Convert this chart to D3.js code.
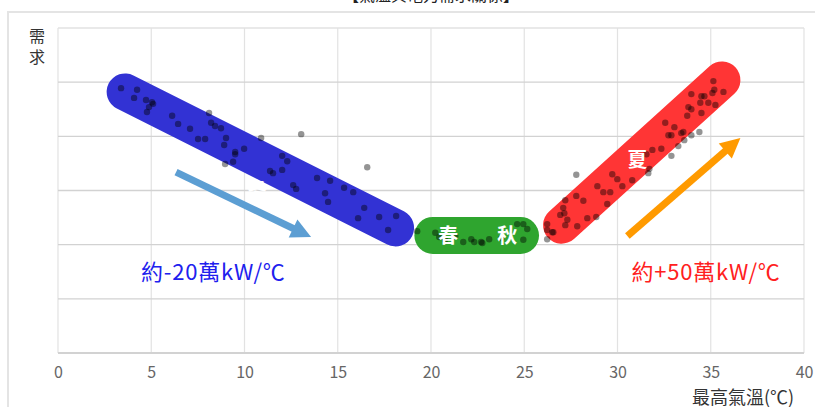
<!DOCTYPE html>
<html>
<head>
<meta charset="utf-8">
<script src="https://cdn.jsdelivr.net/npm/d3@7"></script>
<style>
  body { margin: 0; background: #fff; }
  text { font-family: "Noto Sans CJK TC", "Noto Sans", sans-serif; }
</style>
</head>
<body>
<div class="chart"></div>
<script>
// tick labels and grid
const xTicks = [0, 5, 10, 15, 20, 25, 30, 35, 40];
const yLines = [0, 1, 2, 3, 4, 5, 6];

// scatter points [max temperature, demand]
const winterPts = [
  [3.38, 4.89], [4.24, 4.86], [4.08, 4.71], [4.72, 4.67], [5.04, 4.63], [5.10, 4.60],
  [4.88, 4.54], [4.77, 4.45], [6.12, 4.38], [6.44, 4.23], [7.08, 4.14], [8.10, 4.43],
  [8.21, 4.25], [8.42, 4.19], [8.74, 4.15], [7.51, 3.95], [7.89, 3.95], [9.01, 3.97],
  [8.91, 3.84], [9.50, 3.71], [9.50, 3.67], [9.98, 3.77], [10.89, 3.97], [13.04, 4.04],
  [8.96, 3.49], [9.39, 3.53], [12.02, 3.64], [12.29, 3.54], [12.02, 3.38], [11.37, 3.36],
  [11.53, 3.32], [13.89, 3.23], [14.59, 3.18], [12.61, 3.10], [12.77, 3.03], [15.34, 3.05],
  [15.83, 2.97], [14.32, 2.95], [14.48, 2.79], [16.58, 3.43], [16.42, 2.68], [16.09, 2.49],
  [17.22, 2.51], [18.13, 2.53], [17.70, 2.27]
];
const midPts = [
  [19.26, 2.25], [20.23, 2.22], [20.44, 2.14], [20.76, 2.09], [21.30, 2.16], [21.73, 2.05],
  [22.16, 2.10], [22.32, 2.05], [22.69, 2.05], [22.75, 2.03], [23.12, 2.10], [23.77, 2.12],
  [24.62, 2.38], [24.95, 2.38], [25.16, 2.29], [24.95, 2.09], [26.23, 2.10], [26.23, 2.27],
  [26.56, 2.23]
];
const summerPts = [
  [35.14, 5.02], [35.19, 4.86], [35.09, 4.80], [35.68, 4.82], [34.66, 4.74], [34.50, 4.74],
  [33.96, 4.78], [34.44, 4.62], [34.87, 4.62], [35.25, 4.58], [33.80, 4.54], [33.96, 4.50],
  [33.74, 4.38], [34.50, 4.43], [34.39, 4.08], [33.96, 4.02], [33.58, 3.93], [33.26, 3.82],
  [33.53, 4.08], [33.42, 4.06], [33.05, 4.17], [32.56, 4.25], [32.73, 4.02], [32.89, 4.02],
  [32.35, 3.77], [32.89, 3.64], [31.87, 3.75], [31.55, 3.67], [31.71, 3.40], [31.65, 3.32],
  [27.79, 3.29], [29.72, 3.30], [29.99, 3.21], [30.26, 3.08], [30.79, 3.19], [28.92, 3.08],
  [29.24, 2.97], [29.61, 2.97], [29.45, 2.75], [28.17, 2.81], [27.79, 2.90], [27.20, 2.82],
  [27.09, 2.68], [26.93, 2.55], [27.15, 2.58], [27.31, 2.46], [27.20, 2.36], [28.38, 2.49],
  [28.86, 2.51], [27.84, 2.34], [26.50, 2.23], [26.23, 2.38]
];

// season bands (start / end of each trend)
const winterBand = [[3.6, 4.82], [18.1, 2.31]];
const midBand = [[20.1, 2.17], [24.8, 2.17]];
const summerBand = [[27.0, 2.36], [35.6, 5.04]];

// labels and arrows
const seasonLabels = [["冬", 10.68, 3.01], ["春", 20.92, 2.16], ["秋", 24.09, 2.16], ["夏", 31.06, 3.56]];
const winterArrow = [[6.33, 3.34], [13.57, 2.14]];
const summerArrow = [[30.53, 2.16], [36.59, 3.97]];
const slopeTexts = [["約-20萬kW/℃", 8.33, 1.34, "#2020ee"], ["約+50萬kW/℃", 34.75, 1.34, "#ff2020"]];

const svgWidth = 815, svgHeight = 407;
const svg = d3.select(".chart").append("svg")
  .attr("width", svgWidth)
  .attr("height", svgHeight);

const x = d3.scaleLinear().domain([0, 40]).range([58, 804]);
const y = d3.scaleLinear().domain([0, 6]).range([353, 28]);

// outer frame + cut-off title
svg.append("path")
  .attr("d", "M8,407 V12 H815")
  .attr("fill", "none")
  .attr("stroke", "#e4e4e4")
  .attr("stroke-width", 2);
svg.append("text")
  .attr("x", 431).attr("y", 1)
  .attr("text-anchor", "middle")
  .attr("font-size", 16)
  .attr("fill", "#222")
  .text("【氣溫與電力需求關係】");

// grid
svg.append("g").selectAll("line")
  .data(xTicks)
  .enter().append("line")
  .attr("x1", d => x(d)).attr("x2", d => x(d))
  .attr("y1", y(6)).attr("y2", y(0))
  .attr("stroke", "#e2e2e2")
  .attr("stroke-width", 1.2);

svg.append("g").selectAll("line")
  .data(yLines)
  .enter().append("line")
  .attr("x1", x(0)).attr("x2", x(40))
  .attr("y1", d => y(d)).attr("y2", d => y(d))
  .attr("stroke", d => d === 6 ? "#e2e2e2" : "#d2d2d2")
  .attr("stroke-width", d => d === 0 ? 2 : 1.3);

// x axis labels
const bottomAxis = d3.axisBottom(x).tickValues(xTicks).tickSize(0).tickPadding(14);
const xAxis = svg.append("g")
  .attr("transform", `translate(0, ${y(0)})`)
  .call(bottomAxis);
xAxis.select(".domain").remove();
xAxis.selectAll("text")
  .attr("font-family", "'Liberation Sans Narrow', 'Roboto', sans-serif")
  .attr("font-size", 16)
  .attr("fill", "#666");

// axis titles
svg.append("text")
  .attr("x", 692).attr("y", 404)
  .attr("font-size", 18)
  .attr("fill", "#333")
  .text("最高氣溫(℃)");

// vertical y title, one glyph per line
svg.append("g").selectAll("text")
  .data(["需", "求"])
  .enter().append("text")
  .attr("x", 37)
  .attr("y", (d, i) => 42 + i * 21)
  .attr("text-anchor", "middle")
  .attr("font-size", 16)
  .attr("fill", "#333")
  .text(d => d);

// season bands
const bands = [[winterBand, "#3232d4"], [midBand, "#2fa52f"], [summerBand, "#ff3535"]];
svg.append("g").selectAll("line")
  .data(bands)
  .enter().append("line")
  .attr("x1", d => x(d[0][0][0])).attr("y1", d => y(d[0][0][1]))
  .attr("x2", d => x(d[0][1][0])).attr("y2", d => y(d[0][1][1]))
  .attr("stroke", d => d[1])
  .attr("stroke-width", 37)
  .attr("stroke-linecap", "round");

// scatter points
const allPts = winterPts.concat(midPts, summerPts);
svg.append("g").selectAll("circle")
  .data(allPts)
  .enter().append("circle")
  .attr("cx", d => x(d[0]))
  .attr("cy", d => y(d[1]))
  .attr("r", 3.2)
  .attr("fill", "#000")
  .attr("opacity", 0.42);

// season labels
svg.append("g").selectAll("text")
  .data(seasonLabels)
  .enter().append("text")
  .attr("x", d => x(d[1]))
  .attr("y", d => y(d[2]))
  .attr("dy", "0.36em")
  .attr("text-anchor", "middle")
  .attr("font-size", 20)
  .attr("font-weight", "bold")
  .attr("fill", "#fff")
  .text(d => d[0]);

// arrows
function drawArrow(pts, color) {
  const x1 = x(pts[0][0]), y1 = y(pts[0][1]);
  const x2 = x(pts[1][0]), y2 = y(pts[1][1]);
  const len = Math.hypot(x2 - x1, y2 - y1);
  const ux = (x2 - x1) / len, uy = (y2 - y1) / len;
  const head = 20, halfW = 10;
  const bx = x2 - ux * head, by = y2 - uy * head;
  svg.append("line")
    .attr("x1", x1).attr("y1", y1)
    .attr("x2", bx + ux * 2).attr("y2", by + uy * 2)
    .attr("stroke", color)
    .attr("stroke-width", 7);
  svg.append("path")
    .attr("d", `M${x2},${y2} L${bx - uy * halfW},${by + ux * halfW} L${bx + uy * halfW},${by - ux * halfW} Z`)
    .attr("fill", color);
}
drawArrow(winterArrow, "#5c9ed3");
drawArrow(summerArrow, "#ff9a00");

// slope annotations
svg.append("g").selectAll("text")
  .data(slopeTexts)
  .enter().append("text")
  .attr("x", d => x(d[1]))
  .attr("y", d => y(d[2]))
  .attr("text-anchor", "middle")
  .attr("font-family", "'Noto Sans CJK TC', 'Roboto', sans-serif")
  .attr("font-size", 22)
  .attr("letter-spacing", 0.8)
  .attr("fill", d => d[3])
  .text(d => d[0]);
</script>
</body>
</html>
